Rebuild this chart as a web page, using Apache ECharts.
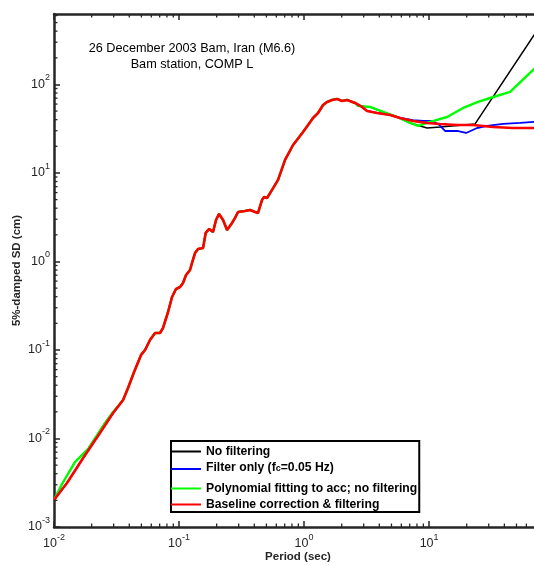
<!DOCTYPE html>
<html><head><meta charset="utf-8">
<script src="https://cdn.jsdelivr.net/npm/echarts@6/dist/echarts.min.js"></script>
<style>html,body{margin:0;padding:0;background:#fff}#c{width:534px;height:565px}</style>
</head><body><div id="c"></div>
<script>
// ---- data (period in sec, SD in cm) ----
const redT = [0.01,0.0127,0.0171,0.0233,0.0297,0.0357,0.0391,0.0437,0.0497,0.0535,0.0586,0.0643,0.0705,0.0745,0.0817,0.0879,0.0946,0.1019,0.1076,0.1138,0.1225,0.1271,0.1343,0.1419,0.1556,0.1634,0.1741,0.187,0.1977,0.2089,0.2249,0.2421,0.2655,0.2805,0.2965,0.3373,0.3698,0.4055,0.4285,0.4613,0.4786,0.5058,0.5546,0.6194,0.7047,0.8166,0.9817,1.18,1.294,1.419,1.528,1.675,1.837,2.014,2.208,2.559,2.911,3.192,3.837,4.875,5.861,7.447,9.638,12.25,16.75,22.49,32.5,46.99,69.2,80];
const redSD = [0.00202,0.00314,0.00603,0.01153,0.0194,0.0272,0.0372,0.0564,0.0879,0.100,0.1297,0.1556,0.1556,0.1775,0.2685,0.397,0.489,0.515,0.571,0.703,0.802,0.962,1.247,1.384,1.42,2.10,2.33,2.153,2.944,3.443,2.944,2.270,2.723,3.104,3.623,3.722,3.819,3.623,3.532,4.955,5.35,5.22,6.43,8.34,14.03,20.7,29.0,41.8,47.6,58.6,63.4,66.8,68.6,65.1,66.8,61.8,55.7,50.2,47.6,45.2,41.8,38.7,36.7,35.8,34.8,34.8,33.1,32.2,32.2,32.0];

const greenLowT  = [0.01,0.0116,0.0147,0.0187,0.0256,0.0297];
const greenLowSD = [0.00202,0.00306,0.00542,0.0076,0.01496,0.0199];
const greenHighT  = [2.704,3.373,4.285,5.546,7.047,8.166,10.19,13.93,18.71,24.66,30.76,44.46,69.2,80];
const greenHighSD = [57.2,55.7,48.9,42.9,36.7,34.0,37.7,42.9,54.2,63.4,70.3,82.3,149.6,184];

const blackHighT  = [9.638,12.25,23.33,69.2,80];
const blackHighSD = [32.2,33.1,35.8,362,495];

const blueHighT  = [7.447,8.95,10.57,11.80,13.43,16.75,19.77,24.21,29.11,39.08,53.46,69.2,80];
const blueHighSD = [39.5,38.7,38.7,35.8,29.8,29.8,28.3,32.2,34.0,35.8,36.7,37.7,38.0];

const seriesNames = ['No filtering','Filter only (fc=0.05 Hz)','Polynomial fitting to acc; no filtering','Baseline correction & filtering'];
const titleLines = ['26 December 2003 Bam, Iran (M6.6)','Bam station, COMP L'];
const xName = 'Period (sec)', yName = '5%-damped SD (cm)';
const X_MIN = 0.01, X_MAX = 80, Y_MIN = 0.001, Y_MAX = 625;

// ---- build series point lists ----
function zip(t, v){ return t.map((x,i)=>[x, v[i]]); }
const redPts = zip(redT, redSD);
const midPts = redPts.slice(5, 56);               // shared portion 0.0357 .. 2.559 s
const greenPts = zip(greenLowT, greenLowSD).concat(midPts, zip(greenHighT, greenHighSD));
const blackPts = zip(greenLowT, greenLowSD).concat(midPts, zip(greenHighT.slice(0,5), greenHighSD.slice(0,5)), zip(blackHighT, blackHighSD));
const bluePts = redPts.slice(0, 61).concat(zip(blueHighT, blueHighSD));

const FONT = '"Liberation Sans", Arial, sans-serif';
const AX = '#262626';

function supLabel(v){
  const e = Math.log10(v), r = Math.round(e);
  if (Math.abs(e - r) > 1e-6) return '';
  return '{b|10}{s|' + r + '}';
}
const labelRich = {
  b: {fontSize: 12.5, lineHeight: 22, color: AX, fontFamily: FONT},
  s: {fontSize: 9, lineHeight: 10, verticalAlign: 'top', color: AX, fontFamily: FONT}
};

const minorX = [], minorY = [];
for (let k = -2; k <= 1; k++) for (let m = 2; m <= 9; m++) { const v = m * Math.pow(10, k); if (v < X_MAX) minorX.push(v); }
for (let k = -3; k <= 2; k++) for (let m = 2; m <= 9; m++) { const v = m * Math.pow(10, k); if (v < Y_MAX) minorY.push(v); }

const chart = echarts.init(document.getElementById('c'), null, {renderer: 'canvas'});

function tickLine(x1,y1,x2,y2){ return {type:'line', shape:{x1,y1,x2,y2}, style:{stroke: AX, lineWidth: 1.3}}; }

const option = {
  backgroundColor: '#fff',
  animation: false,
  grid: {left: 54, top: 14, right: -8, bottom: 38, containLabel: false, outerBoundsMode: 'none'},
  xAxis: [{
    type: 'log', logBase: 10, min: X_MIN, max: X_MAX, position: 'bottom',
    name: xName, nameLocation: 'middle', nameGap: 24, nameMoveOverlap: false,
    nameTextStyle: {fontFamily: FONT, fontSize: 11.5, fontWeight: 'bold', color: AX},
    axisLine: {show: true, lineStyle: {color: AX, width: 2.5}},
    axisTick: {show: true, inside: true, length: 6, lineStyle: {color: AX, width: 1.5}},
    axisLabel: {show: true, margin: 6, formatter: supLabel, rich: labelRich, showMinLabel: true, showMaxLabel: false, hideOverlap: false},
    splitLine: {show: false}, minorTick: {show: false}
  },{
    type: 'log', logBase: 10, min: X_MIN, max: X_MAX, position: 'top',
    axisLine: {show: true, lineStyle: {color: AX, width: 2.5}},
    axisTick: {show: true, inside: true, length: 6, lineStyle: {color: AX, width: 1.5}},
    axisLabel: {show: false}, splitLine: {show: false}
  }],
  yAxis: [{
    type: 'log', logBase: 10, min: Y_MIN, max: Y_MAX,
    name: yName, nameLocation: 'middle', nameGap: 31, nameRotate: 90, nameMoveOverlap: false,
    nameTextStyle: {fontFamily: FONT, fontSize: 11.5, fontWeight: 'bold', color: AX},
    axisLine: {show: true, lineStyle: {color: AX, width: 2.5}},
    axisTick: {show: true, inside: true, length: 6, lineStyle: {color: AX, width: 1.5}},
    axisLabel: {show: true, margin: 4, formatter: supLabel, rich: labelRich, showMinLabel: true, showMaxLabel: false, hideOverlap: false},
    splitLine: {show: false}
  }],
  legend: {
    left: 171, top: 441, orient: 'vertical', icon: 'rect', itemWidth: 30, itemHeight: 2, itemGap: 1,
    padding: [3, 2, 0, 0], borderColor: '#000', borderWidth: 2, backgroundColor: '#fff',
    selectedMode: false,
    data: seriesNames,
    formatter: function(name){
      if (name === seriesNames[1]) return '{t|Filter only (f}{sub|c}{t|=0.05 Hz)}';
      return name;
    },
    textStyle: {fontFamily: FONT, fontSize: 12.2, fontWeight: 'bold', color: '#000', lineHeight: 15,
      rich: {
        t: {fontFamily: FONT, fontSize: 12.2, fontWeight: 'bold', color: '#000', lineHeight: 18, verticalAlign: 'top', padding: [2,0,6,0]},
        sub: {fontFamily: FONT, fontSize: 9, fontWeight: 'bold', color: '#000', lineHeight: 9, verticalAlign: 'bottom', padding: [0,0,5,0]}
      }}
  },
  graphic: titleLines.map((t, i) => ({
    type: 'text', x: 192, y: 48 + i * 16, z: 10,
    style: {text: t, align: 'center', verticalAlign: 'middle', textAlign: 'center', textVerticalAlign: 'middle',
      fontFamily: FONT, fontSize: 12.7, fill: '#000'}
  })),
  series: [
    {name: seriesNames[0], type: 'line', data: blackPts, showSymbol: false, symbol: 'none', lineStyle: {color: '#000000', width: 1.5}, itemStyle: {color: '#000000'}, z: 2},
    {name: seriesNames[1], type: 'line', data: bluePts, showSymbol: false, symbol: 'none', lineStyle: {color: '#0000ff', width: 1.8}, itemStyle: {color: '#0000ff'}, z: 3},
    {name: seriesNames[2], type: 'line', data: greenPts, showSymbol: false, symbol: 'none', lineStyle: {color: '#00ff00', width: 2.4}, itemStyle: {color: '#00ff00'}, z: 4},
    {name: seriesNames[3], type: 'line', data: redPts, showSymbol: false, symbol: 'none', lineStyle: {color: '#ff0000', width: 2.6}, itemStyle: {color: '#ff0000'}, z: 5},
    {type: 'custom', silent: true, z: 6, data: minorX.map(v => [v, Y_MIN]),
      renderItem: function(p, api){
        const v = api.value(0);
        const b = api.coord([v, Y_MIN]), t = api.coord([v, Y_MAX]);
        return {type: 'group', children: [tickLine(b[0], b[1], b[0], b[1]-3.5), tickLine(t[0], t[1], t[0], t[1]+3.5)]};
      }},
    {type: 'custom', silent: true, z: 6, data: minorY.map(v => [X_MIN, v]),
      renderItem: function(p, api){
        const v = api.value(1);
        const l = api.coord([X_MIN, v]), r = api.coord([X_MAX, v]);
        return {type: 'group', children: [tickLine(l[0], l[1], l[0]+3.5, l[1]), tickLine(r[0], r[1], r[0]-3.5, r[1])]};
      }}
  ]
};
chart.setOption(option);
</script>
</body></html>
